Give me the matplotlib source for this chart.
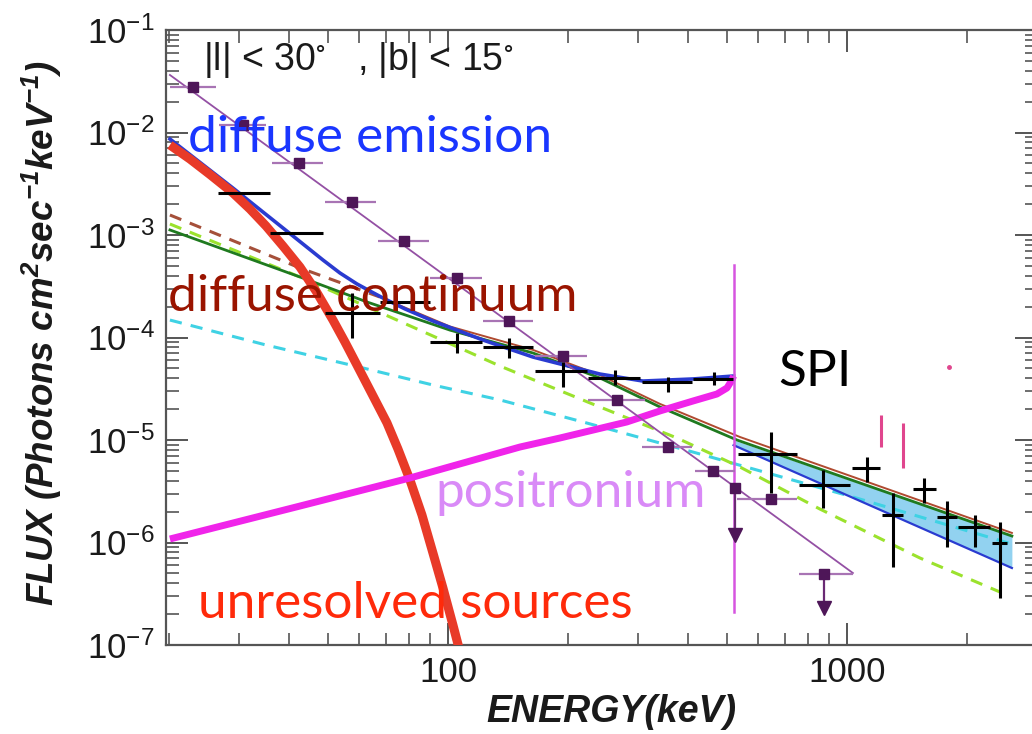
import matplotlib
matplotlib.use('Agg')
import matplotlib.pyplot as plt
from matplotlib.ticker import (FixedLocator, FixedFormatter, NullFormatter,
                               LogFormatterSciNotation)

plt.rcParams['font.family'] = ['Liberation Sans', 'DejaVu Sans']
plt.rcParams['mathtext.default'] = 'regular'

# ---------------- data (keV, photons cm^-2 s^-1 keV^-1) ----------------
LINE_E = 520.0  # 511 keV line as drawn
x_ticks = [100, 1000]
x_tick_labels = ['100', '1000']
y_ticks = [1e-7, 1e-6, 1e-5, 1e-4, 1e-3, 1e-2, 1e-1]

# unresolved sources (red)
unres_E = [20.1, 22.56, 25.33, 28.92, 31.91, 35.0, 38.59, 42.57, 46.70, 51.50,
           55.19, 59.15, 64.52, 70.33, 74.94, 80.32, 86.08, 91.71, 97.16,
           102.93, 107.2]
unres_F = [7.55e-3, 5.51e-3, 3.89e-3, 2.57e-3, 1.79e-3, 1.224e-3, 7.81e-4,
           4.87e-4, 2.84e-4, 1.48e-4, 9.04e-5, 5.39e-5, 2.81e-5, 1.47e-5,
           8.17e-6, 4.07e-6, 1.855e-6, 7.90e-7, 3.60e-7, 1.567e-7, 8.55e-8]

# total diffuse emission model (blue), below the line
tot_E = [20.1, 28.92, 40.89, 48.62, 53.62, 59.15, 63.76, 68.71, 78.03, 91.71,
         122.4, 163.3, 240.4, 308.1, 411.2, 520.0]
tot_F = [8.64e-3, 2.87e-3, 9.78e-4, 5.70e-4, 4.26e-4, 3.33e-4, 2.84e-4,
         2.43e-4, 1.90e-4, 1.45e-4, 9.45e-5, 6.45e-5, 4.40e-5, 3.76e-5,
         3.94e-5, 4.21e-5]

# high energy band (above the line)
band_E = [520.0, 2591.0]
band_lo = [8.9e-6, 5.64e-7]
band_hi = [1.0e-5, 1.157e-6]

# green solid component
green_E = [20.1, 42.6, 62.7, 101.2, 163.3, 240.4, 339.9, 530.0, 2591.0]
green_F = [1.12e-3, 3.89e-4, 2.22e-4, 1.18e-4, 7.06e-5, 4.03e-5, 2.10e-5,
           1.0e-5, 1.157e-6]

# diffuse continuum (brown)
cont_E = [20.1, 42.6, 67.5, 101.2, 163.3, 240.4, 339.9, 539.3, 2591.0]
cont_F = [1.567e-3, 4.765e-4, 2.484e-4, 1.28e-4, 7.57e-5, 4.30e-5, 2.25e-5,
          1.07e-5, 1.24e-6]

# lime dashed component
lime_E = [20.1, 42.6, 91.7, 135.0, 226.9, 374.9, 539.3, 855.7, 1524.0, 2418.0]
lime_F = [1.28e-3, 3.89e-4, 1.034e-4, 5.27e-5, 2.30e-5, 1.046e-5, 5.45e-6,
          2.12e-6, 7.06e-7, 3.29e-7]

# cyan dashed component
cyan_E = [20.1, 35.0, 59.8, 91.7, 135.0, 217.9, 411.2, 1035.0, 2591.0]
cyan_F = [1.48e-4, 8.45e-5, 5.16e-5, 3.44e-5, 2.46e-5, 1.50e-5, 7.63e-6,
          2.78e-6, 9.67e-7]

# positronium continuum
pos_E = [20.1, 42.6, 80.3, 151.5, 190.9, 280.9, 339.9, 411.2, 472.3, 500.6,
         515.1, 520.0]
pos_F = [1.082e-6, 2.27e-6, 4.26e-6, 8.54e-6, 1.046e-5, 1.50e-5, 1.92e-5,
         2.40e-5, 2.81e-5, 3.22e-5, 3.85e-5, 4.21e-5]
line_F = [5.09e-4, 2.10e-7]

# other-instrument points (purple) and their power law
pl_E = [20.1, 1035.0]
pl_F = [3.64e-2, 5.04e-7]
pur_E = [22.9, 30.6, 42.4, 57.5, 77.8, 105.1, 142.5, 194.5, 264.8, 356.6,
         462.3, 643.9]
pur_lo = [20.1, 26.7, 36.2, 49.2, 66.7, 90.1, 122.2, 165.2, 224.3, 305.8,
          416.0, 529.3]
pur_hi = [26.2, 35.0, 48.5, 66.0, 89.8, 121.5, 163.6, 222.6, 311.7, 408.1,
          524.1, 747.9]
pur_F = [2.80e-2, 1.18e-2, 5.01e-3, 2.11e-3, 8.74e-4, 3.83e-4, 1.45e-4,
         6.60e-5, 2.46e-5, 8.60e-6, 4.98e-6, 2.64e-6]
ul_E = [524.0, 875.8]
ul_lo = [524.0, 757.9]
ul_hi = [524.0, 1035.0]
ul_F = [3.38e-6, 4.90e-7]
ul_tip = [1.18e-6, 2.30e-7]

# SPI points (black)
spi_E = [30.8, 41.7, 57.4, 78.0, 105.1, 142.5, 194.5, 262.2, 356.6, 464.2,
         643.9, 870.7, 1121.0, 1302.0, 1560.0, 1778.0, 2093.0, 2418.0]
spi_Elo = [26.5, 35.8, 49.2, 67.5, 90.1, 122.2, 165.2, 224.3, 305.8, 411.2,
           533.2, 757.9, 1027.5, 1222.0, 1461.0, 1678.0, 1901.0, 2305.0]
spi_Ehi = [35.8, 48.6, 67.5, 90.1, 121.5, 163.6, 222.6, 302.8, 408.1, 518.1,
           747.9, 1017.5, 1209.7, 1384.0, 1671.0, 1890.0, 2282.0, 2522.0]
spi_F = [2.55e-3, 1.039e-3, 1.734e-4, 2.22e-4, 9.10e-5, 8.13e-5, 4.71e-5,
         4.05e-5, 3.66e-5, 3.91e-5, 7.30e-6, 3.64e-6, 5.30e-6, 1.855e-6,
         3.30e-6, 1.786e-6, 1.426e-6, 9.82e-7]
spi_Flo = [2.55e-3, 1.039e-3, 9.89e-5, 2.22e-4, 7.06e-5, 6.31e-5, 3.31e-5,
           3.44e-5, 2.96e-5, 3.44e-5, 3.02e-6, 2.16e-6, 3.92e-6, 5.81e-7,
           2.44e-6, 9.10e-7, 9.10e-7, 2.855e-7]
spi_Fhi = [2.55e-3, 1.039e-3, 2.72e-4, 2.22e-4, 1.106e-4, 9.89e-5, 5.81e-5,
           4.82e-5, 4.14e-5, 4.64e-5, 1.205e-5, 5.10e-6, 6.83e-6, 3.02e-6,
           4.23e-6, 2.56e-6, 1.855e-6, 1.596e-6]

# gamma-ray lines (pink)
gl_E = [1217.0, 1379.0]
gl_Flo = [8.54e-6, 5.33e-6]
gl_Fhi = [1.754e-5, 1.465e-5]
al_E = [1801.0]
al_F = [5.16e-5]

# ---------------- figure ----------------
W, H = 1032, 734
fig = plt.figure(figsize=(W / 100, H / 100), dpi=100)
ax = fig.add_axes([166 / W, 89 / H, 871 / W, 615 / H])
ax.set_xscale('log')
ax.set_yscale('log')
ax.set_xlim(19.65, 2995)
ax.set_ylim(1e-7, 1e-1)

ax.fill_between(band_E, band_lo, band_hi, color='#92d2f0', lw=0, zorder=1)
ax.plot(cyan_E, cyan_F, color='#3fd2e4', lw=2.2, ls=(0, (4, 3)), zorder=2)
ax.plot(lime_E, lime_F, color='#9be22d', lw=2.2, ls=(0, (4, 3)), zorder=2)
ax.plot(cont_E[:3], cont_F[:3], color='#a5503a', lw=2.2, ls=(0, (4, 3)), zorder=3)
ax.plot(cont_E[2:], cont_F[2:], color='#b04a30', lw=1.4, zorder=3)
ax.plot(green_E, green_F, color='#1f7a1f', lw=2.0, zorder=3)
ax.plot(band_E, band_lo, color='#2a3bd0', lw=1.6, zorder=3)
ax.plot(tot_E, tot_F, color='#2a3bd0', lw=2.6, zorder=4)
ax.plot(unres_E, unres_F, color='#e83a28', lw=6.5, solid_capstyle='butt',
        solid_joinstyle='round', zorder=4)
ax.plot(pos_E, pos_F, color='#f024ea', lw=5, solid_capstyle='butt',
        solid_joinstyle='round', zorder=4)
ax.plot([LINE_E, LINE_E], line_F, color='#d655e0', lw=1.8, zorder=4)

# purple points
ax.plot(pl_E, pl_F, color='#9450a4', lw=1.3, zorder=5)
ax.hlines(pur_F, pur_lo, pur_hi, color='#a874b4', lw=1.6, zorder=5)
ax.plot(pur_E, pur_F, 's', color='#4e1658', ms=7, zorder=6)
ax.hlines(ul_F, ul_lo, ul_hi, color='#a874b4', lw=1.6, zorder=5)
ax.vlines(ul_E, ul_tip, ul_F, color='#6a2a74', lw=1.6, zorder=5)
ax.plot(ul_E, ul_F, 's', color='#4e1658', ms=7, zorder=6)
ax.plot(ul_E, ul_tip, 'v', color='#4e1658', ms=10, zorder=6)

# SPI
ax.hlines(spi_F, spi_Elo, spi_Ehi, color='black', lw=2.2, zorder=7)
ax.vlines(spi_E, spi_Flo, spi_Fhi, color='black', lw=2.2, zorder=7)

# lines
ax.vlines(gl_E, gl_Flo, gl_Fhi, color='#e0468e', lw=2.2, zorder=6)
ax.plot(al_E, al_F, 'o', color='#e0468e', ms=2.5, zorder=6)

# axes style
for s in ax.spines.values():
    s.set_color('#555555')
    s.set_linewidth(1.6)
ax.spines['right'].set_visible(False)
ax.xaxis.set_major_locator(FixedLocator(x_ticks))
ax.xaxis.set_major_formatter(FixedFormatter(x_tick_labels))
ax.xaxis.set_minor_formatter(NullFormatter())
ax.yaxis.set_major_locator(FixedLocator(y_ticks))
ax.yaxis.set_major_formatter(LogFormatterSciNotation())
ax.yaxis.set_minor_formatter(NullFormatter())
ax.tick_params(which='both', direction='in', top=True, right=True,
               colors='#555555', labelcolor='#1a1a1a')
ax.tick_params(which='major', length=16, width=1.4, labelsize=25, pad=8)
ax.tick_params(which='minor', length=9, width=1.2)

ax.set_xlabel('ENERGY(keV)', fontsize=27, fontweight='bold', fontstyle='italic',
              color='#1a1a1a')
ax.set_ylabel(r'FLUX (Photons cm$^{2}$sec$^{-1}$keV$^{-1}$)', fontsize=26.5,
              fontweight='bold', fontstyle='italic', color='#1a1a1a')
ax.xaxis.set_label_coords((611 - 166) / 871, (645 - 694) / 615)
ax.yaxis.set_label_coords((64 - 166) / 871, (645 - 333) / 615)


def P(px, py):
    return px / W, 1 - py / H


fig.text(*P(203, 60), r'|l| < 30$^{\circ}$   , |b| < 15$^{\circ}$', fontsize=27,
         color='#1a1a1a', ha='left', va='center', zorder=10)
ann = dict(family=['Lato', 'DejaVu Sans'], fontsize=37, ha='left', va='center',
           zorder=10)
fig.text(*P(188, 138), 'diffuse emission', color='#1a36ff', **ann)
fig.text(*P(168, 297), 'diffuse continuum', color='#9a1400', **ann)
fig.text(*P(778, 372), 'SPI', color='black', **ann)
fig.text(*P(435, 493), 'positronium', color='#d98af7', **ann)
fig.text(*P(198, 604), 'unresolved sources', color='#ff2a0a', **ann)

fig.savefig('out.png', dpi=100)
